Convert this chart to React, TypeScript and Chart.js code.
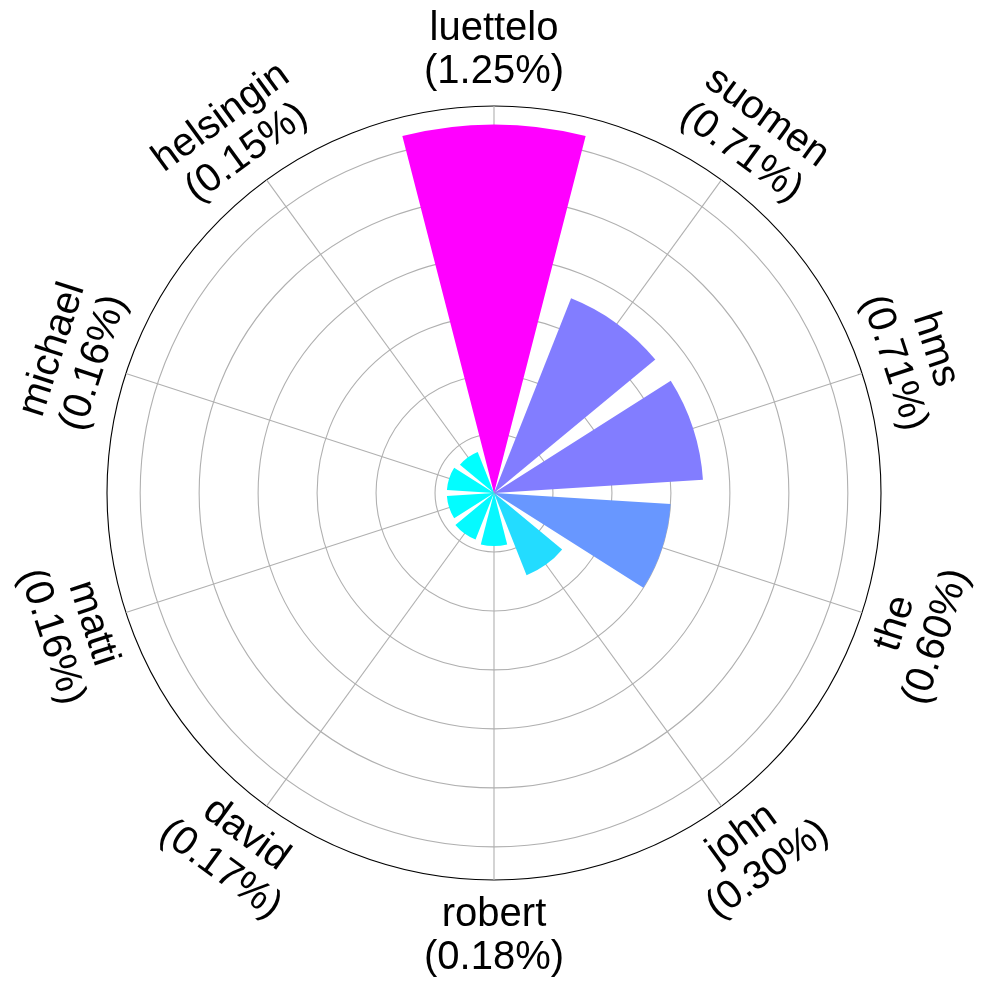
import React, { useEffect, useRef } from "react";
import { Chart, registerables } from "chart.js";

Chart.register(...registerables);

// ---- data ----
const categories = ["luettelo", "suomen", "hms", "the", "john", "robert", "david", "matti", "michael", "helsingin"];
const values = [1.25, 0.71, 0.71, 0.6, 0.3, 0.18, 0.17, 0.16, 0.16, 0.15];
const percentLabels = ["1.25%", "0.71%", "0.71%", "0.60%", "0.30%", "0.18%", "0.17%", "0.16%", "0.16%", "0.15%"];
const radialMax = 1.3125;
const radialStep = 0.2;

// ---- styling ----
const sector = 360 / categories.length;
const barAngle = sector * 0.8;
const gapAngle = sector - barAngle;
const gridGray = "#b0b0b0";
const FONT = '40px "Liberation Sans", Arial, sans-serif';

const vMin = Math.min(...values);
const vMax = Math.max(...values);
function coolColor(v: number): string {
  const t = (v - vMin) / (vMax - vMin);
  const r = Math.round(255 * t);
  const g = Math.round(255 * (1 - t));
  return `rgb(${r},${g},255)`;
}

// interleave bars with empty gap segments
const segLabels: string[] = [];
const segValues: number[] = [];
const segAngles: number[] = [];
const segColors: string[] = [];
categories.forEach((c, i) => {
  segLabels.push(c, "");
  segValues.push(values[i], 0);
  segAngles.push(barAngle, gapAngle);
  segColors.push(coolColor(values[i]), "rgba(0,0,0,0)");
});

const decorPlugin = {
  id: "decor",
  beforeDatasetsDraw(chart: any) {
    const s = chart.scales.r;
    const ctx = chart.ctx;
    const R = s.getDistanceFromCenterForValue(radialMax);
    const meta = chart.getDatasetMeta(0);
    ctx.save();
    ctx.strokeStyle = gridGray;
    ctx.lineWidth = 1.1;
    categories.forEach((_, i) => {
      const arc = meta.data[i * 2];
      const a = (arc.startAngle + arc.endAngle) / 2;
      ctx.beginPath();
      ctx.moveTo(s.xCenter, s.yCenter);
      ctx.lineTo(s.xCenter + R * Math.cos(a), s.yCenter + R * Math.sin(a));
      ctx.stroke();
    });
    ctx.restore();
  },
  afterDraw(chart: any) {
    const s = chart.scales.r;
    const ctx = chart.ctx;
    const R = s.getDistanceFromCenterForValue(radialMax) + 56;
    const meta = chart.getDatasetMeta(0);
    ctx.save();
    ctx.font = FONT;
    ctx.fillStyle = "#000";
    ctx.textAlign = "center";
    ctx.textBaseline = "alphabetic";
    categories.forEach((c, i) => {
      const arc = meta.data[i * 2];
      const a = (arc.startAngle + arc.endAngle) / 2;
      let deg = ((a * 180) / Math.PI + 90) % 360;
      if (deg < 0) deg += 360;
      let rot = deg;
      if (deg > 90 && deg <= 270) rot = deg - 180;
      else if (deg > 270) rot = deg - 360;
      const x = s.xCenter + R * Math.cos(a);
      const y = s.yCenter + R * Math.sin(a);
      ctx.save();
      ctx.translate(x, y);
      ctx.rotate((rot * Math.PI) / 180);
      ctx.fillText(c, 0, -10.2);
      ctx.fillText(`(${percentLabels[i]})`, 0, 33.4);
      ctx.restore();
    });
    ctx.restore();
  },
};

export default function App() {
  const ref = useRef<HTMLCanvasElement | null>(null);
  useEffect(() => {
    if (!ref.current) return;
    const chart = new Chart(ref.current, {
      type: "polarArea",
      data: {
        labels: segLabels,
        datasets: [
          {
            data: segValues,
            backgroundColor: segColors,
            borderWidth: 0,
            angle: (ctx: any) => segAngles[ctx.dataIndex],
          } as any,
        ],
      },
      options: {
        responsive: false,
        animation: false,
        layout: { padding: { left: 107, right: 106, top: 106, bottom: 109 } },
        plugins: { legend: { display: false }, tooltip: { enabled: false } },
        scales: {
          r: {
            min: 0,
            max: radialMax,
            startAngle: -barAngle / 2,
            ticks: { display: false, stepSize: radialStep },
            angleLines: { display: false },
            pointLabels: { display: false },
            grid: {
              circular: true,
              color: (c: any) => (c.tick && c.tick.value >= radialMax - 1e-6 ? "#000" : gridGray),
              lineWidth: 1.1,
            },
          },
        },
      } as any,
      plugins: [decorPlugin],
    });
    return () => chart.destroy();
  }, []);
  return (
    <canvas
      ref={ref}
      width={987}
      height={989}
      style={{ position: "absolute", left: 0, top: 0, width: 987, height: 989, display: "block" }}
    />
  );
}
